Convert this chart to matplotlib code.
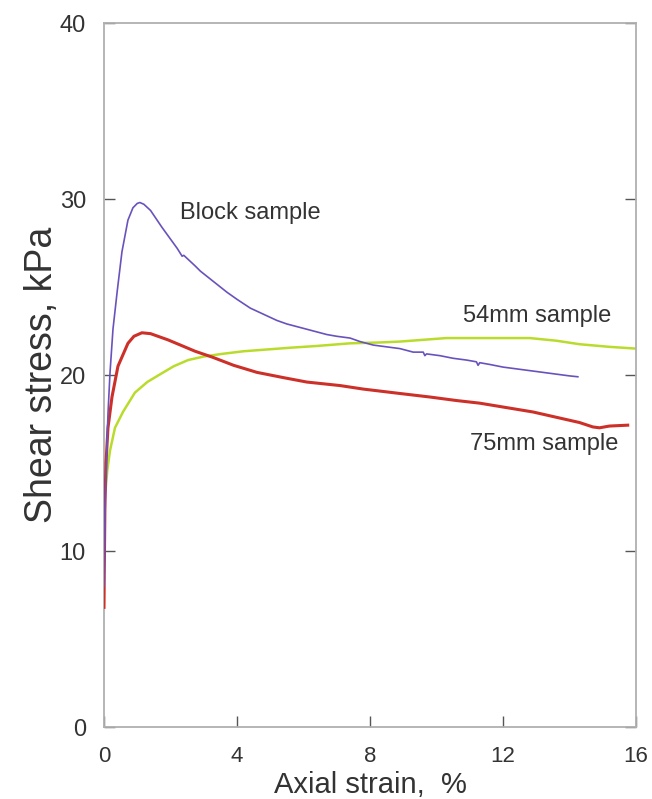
import matplotlib
matplotlib.use('Agg')
import matplotlib.pyplot as plt

plt.rcParams['font.family'] = ['Liberation Sans', 'DejaVu Sans']

# block sample: sharp peak then softening, recorded trace is a bit jagged
block_strain = [0.0, 0.03, 0.08, 0.12, 0.18, 0.27, 0.4, 0.54, 0.72, 0.87, 1.0, 1.08,
                1.2, 1.4, 1.74, 2.2, 2.35, 2.4, 2.74, 2.9, 3.3, 3.7, 4.0, 4.4,
                4.8, 5.2, 5.5, 5.9, 6.3, 6.7, 7.0, 7.4, 7.7, 8.1, 8.5, 8.9,
                9.3, 9.6, 9.65, 9.7, 10.1, 10.5, 10.9, 11.2, 11.25, 11.3, 11.6, 12.0,
                12.4, 12.8, 13.2, 13.6, 14.0, 14.25]
block_stress = [8.0, 12.0, 15.5, 17.8, 20.1, 22.6, 24.8, 27.0, 28.8, 29.5, 29.75, 29.8,
                29.7, 29.35, 28.4, 27.2, 26.75, 26.8, 26.2, 25.9, 25.3, 24.7, 24.3, 23.8,
                23.45, 23.1, 22.9, 22.7, 22.5, 22.3, 22.2, 22.1, 21.9, 21.7, 21.6, 21.5,
                21.3, 21.3, 21.1, 21.2, 21.1, 20.95, 20.85, 20.75, 20.55, 20.7, 20.6, 20.45,
                20.35, 20.25, 20.15, 20.05, 19.95, 19.9]

# 75 mm sample
s75_strain = [0.0, 0.01, 0.03, 0.06, 0.12, 0.24, 0.42, 0.72, 0.9, 1.14, 1.4, 1.92,
              2.3, 2.74, 3.28, 3.9, 4.6, 5.4, 6.1, 7.1, 7.8, 8.9, 9.8, 10.6,
              11.3, 12.1, 12.9, 13.6, 14.3, 14.7, 14.9, 15.2, 15.75]
s75_stress = [6.8, 9.1, 12.9, 15.0, 17.0, 18.75, 20.5, 21.8, 22.2, 22.4, 22.35, 22.0,
              21.7, 21.35, 21.0, 20.55, 20.15, 19.85, 19.6, 19.4, 19.2, 18.95, 18.75, 18.55,
              18.4, 18.15, 17.9, 17.6, 17.3, 17.05, 17.0, 17.1, 17.15]

# 54 mm sample
s54_strain = [0.05, 0.1, 0.18, 0.33, 0.57, 0.93, 1.3, 1.74, 2.1, 2.53, 3.0, 3.55,
              4.2, 4.9, 5.6, 6.4, 7.4, 8.3, 8.9, 9.6, 10.3, 11.5, 12.8, 13.6,
              14.3, 15.2, 16.0]
s54_stress = [13.5, 14.6, 15.7, 17.0, 17.9, 19.0, 19.6, 20.1, 20.5, 20.85, 21.05, 21.2,
              21.35, 21.45, 21.55, 21.65, 21.8, 21.85, 21.9, 22.0, 22.1, 22.1, 22.1, 21.95,
              21.75, 21.6, 21.5]

fig = plt.figure(figsize=(6.52, 7.99), dpi=100)
ax = fig.add_axes([0.1595, 0.0901, 0.816, 0.8811])

ax.plot(s54_strain, s54_stress, color='#b9dc2c', lw=1.8, zorder=2,
        solid_joinstyle='round')
ax.plot(s75_strain, s75_stress, color='#cc3028', lw=2.2, zorder=3,
        solid_joinstyle='round')
ax.plot(block_strain, block_stress, color='#6a52bd', lw=1.2, zorder=4,
        solid_joinstyle='round')

ax.text(2.29, 29.2, 'Block sample', fontsize=17, color='#333333', va='center')
ax.text(10.8, 23.35, '54mm sample', fontsize=17, color='#333333', va='center')
ax.text(11.0, 16.1, '75mm sample', fontsize=17, color='#333333', va='center')

ax.set_xlim(0, 16)
ax.set_ylim(0, 40)
ax.set_xticks([0, 4, 8, 12, 16])
ax.set_yticks([0, 10, 20, 30, 40])
ax.tick_params(axis='x', direction='in', length=8, width=1, color='#555555',
               labelsize=16, pad=14, labelcolor='#333333')
ax.tick_params(axis='y', direction='in', length=8, width=1, color='#555555',
               labelsize=17, pad=13, labelcolor='#333333', right=True)

for side in ['left', 'right', 'bottom', 'top']:
    ax.spines[side].set_color('#b0b0b0')
    ax.spines[side].set_linewidth(1.3)

ax.set_xlabel('Axial strain,  %', fontsize=21, color='#333333')
ax.xaxis.set_label_coords(0.5, -0.062)
ax.set_ylabel('Shear stress, kPa', fontsize=27, color='#333333', labelpad=0)

fig.savefig('out.png', dpi=100)
